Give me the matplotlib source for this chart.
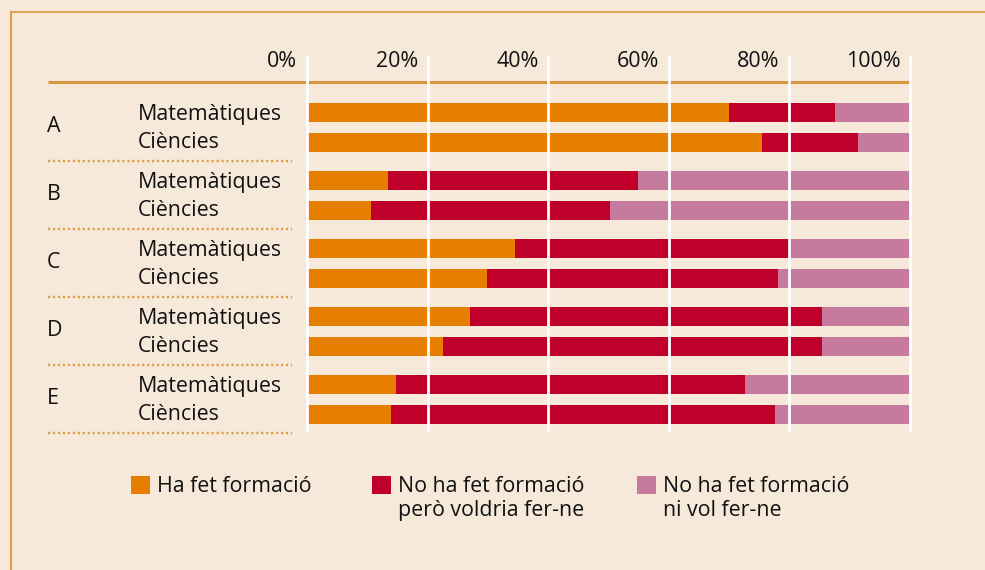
import matplotlib
matplotlib.use('Agg')
import matplotlib.pyplot as plt
from matplotlib.patches import Rectangle
from matplotlib.lines import Line2D
import numpy as np

# ================= DATA =================
groups = ['A', 'B', 'C', 'D', 'E']
subjects = ['Matemàtiques', 'Ciències']

# percentatges (Matemàtiques, Ciències) per grup
ha_fet = [[70.0, 75.5], [13.4, 10.6], [34.5, 29.9], [27.0, 22.6], [14.8, 13.9]]
voldria = [[17.6, 15.9], [41.5, 39.6], [45.5, 48.2], [58.4, 62.8], [57.8, 63.7]]
no_vol = [[12.4, 8.6], [45.1, 49.8], [20.0, 21.9], [14.6, 14.6], [27.4, 22.4]]

series = [ha_fet, voldria, no_vol]
series_labels = ['Ha fet formació', 'No ha fet formació\nperò voldria fer-ne',
                 'No ha fet formació\nni vol fer-ne']
colors = ['#e67e00', '#c0002b', '#c67a9d']
ticks = [0, 20, 40, 60, 80, 100]

# ================= STYLE =================
bg = '#f6e9da'
gold = '#d8963f'
ink = '#111111'
plt.rcParams['font.family'] = ['Open Sans', 'DejaVu Sans']
fs = 15.4

fig = plt.figure(figsize=(9.85, 5.7), dpi=100, facecolor=bg)
# axes covers full width: 0% at px 307, 100% at px 910
ax = fig.add_axes([0, 1 - 440 / 570, 1, 396 / 570])
ax.set_facecolor(bg)
px = 6.03
ax.set_xlim(-307 / px, (985 - 307) / px)
ax.set_ylim((440 - 112.5) / 68, (44 - 112.5) / 68)
ax.axis('off')

bar_h = 19 / 68
row_off = 0.434
text_off = [0.11, 0.085]

for i, g in enumerate(groups):
    for j, s in enumerate(subjects):
        y = i + j * row_off
        left = 0
        for k, ser in enumerate(series):
            v = ser[i][j]
            ax.barh(y, v, left=left, height=bar_h, color=colors[k], linewidth=0)
            left += v
        ax.text(-28.1, y + text_off[j], s, fontsize=fs, ha='left', va='baseline', color=ink)
    ax.text(-43.1, i + 0.282, g, fontsize=fs, ha='left', va='baseline', color=ink)
    # dotted separator
    ax.plot([-42.9, -2.5], [i + 0.715, i + 0.715], color='#dc9c45', lw=1.7,
            linestyle=(0, (0.9, 1.2)), clip_on=False)

# header line
ax.plot([-42.9, 100], [-0.449, -0.449], color=gold, lw=2.2, clip_on=False,
        solid_capstyle='butt', zorder=2)

# white grid lines on top
ax.vlines(ticks, -0.846, 4.70, color='white', lw=2.0, zorder=5)
for t in ticks:
    ax.text(t - 1.6, -0.673, f'{t}%', fontsize=fs, ha='right', va='baseline', color=ink)

# ================= LEGEND =================
leg_x = [131, 372, 637]
for k, lab in enumerate(series_labels):
    x0 = leg_x[k]
    fig.add_artist(Rectangle((x0 / 985, 1 - 494 / 570), 19 / 985, 18 / 570,
                             transform=fig.transFigure, color=colors[k], lw=0))
    fig.text((x0 + 26) / 985, 1 - 476 / 570, lab, fontsize=fs, ha='left', va='top',
             color=ink, linespacing=1.2)

# ================= FRAME =================
fig.add_artist(Line2D([11 / 985, 1], [1 - 12 / 570, 1 - 12 / 570],
                      transform=fig.transFigure, color='#dfa04c', lw=1.3))
fig.add_artist(Line2D([11 / 985, 11 / 985], [0, 1 - 12 / 570],
                      transform=fig.transFigure, color='#dfa04c', lw=1.5))

fig.savefig('out.png', dpi=100, facecolor=bg)
